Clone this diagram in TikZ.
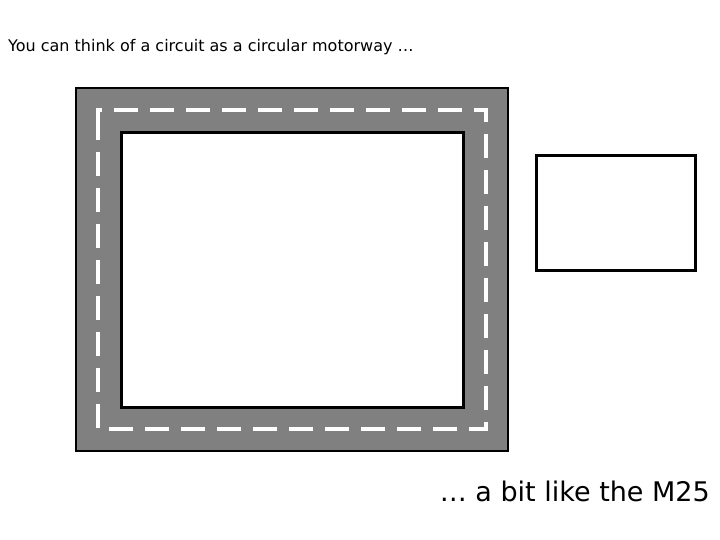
\documentclass[tikz,border=0pt]{standalone}
\usepackage{fontspec}
\setmainfont{DejaVu Sans}
\begin{document}
\begin{tikzpicture}[x=1pt,y=-1pt,
  road/.style={fill={rgb,255:red,128;green,128;blue,128},draw=black,line width=2.5pt},
  hole/.style={fill=white,draw=black,line width=3pt},
  lane/.style={draw=white,line width=4pt,dash pattern=on 24pt off 12pt},
  lbl/.style={inner sep=0pt}]
\useasboundingbox[fill=white] (0,0) rectangle (720,540);
\filldraw[road] (76,88) rectangle (508,451);
\draw[lane] (98,130) -- (98,110) -- (486,110) -- (486,429) -- (98,429) -- cycle;
\draw[hole] (121,133) rectangle (463,407);
\draw[hole] (536,156) rectangle (695,270);
\node[lbl,anchor=west,font=\fontsize{16}{18}\selectfont] (t1) at (8,47) {You can think of a circuit as a circular motorway …};
\node[lbl,anchor=east,font=\fontsize{27}{30}\selectfont] (t2) at (710,491) {… a bit like the M25};
\end{tikzpicture}
\end{document}
